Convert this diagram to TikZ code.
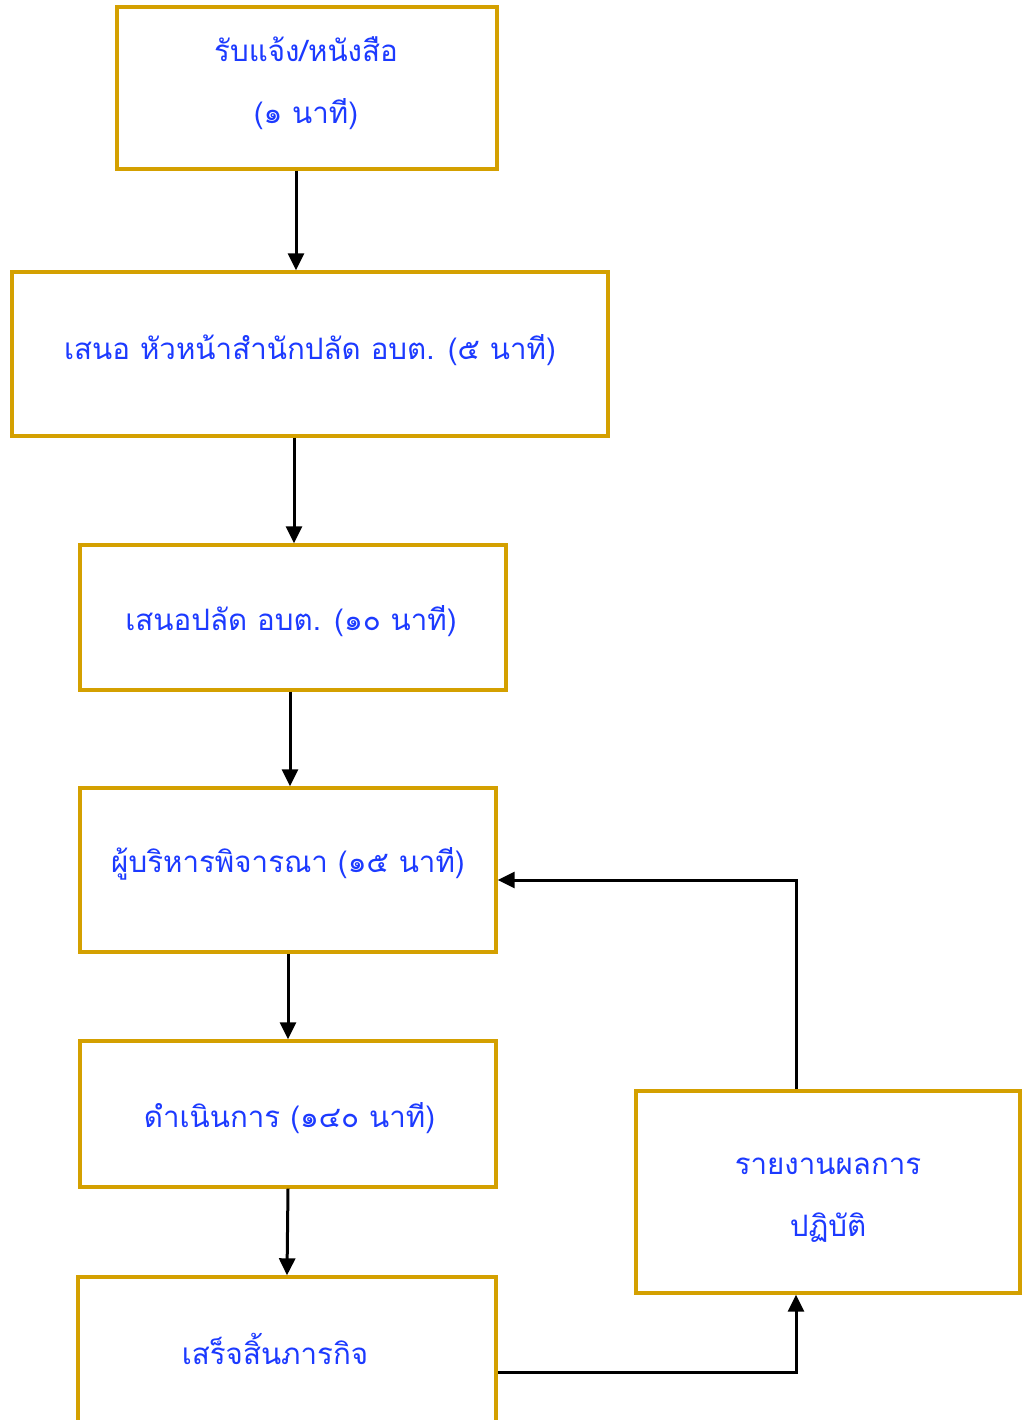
\documentclass[tikz,border=0pt]{standalone}
\usepackage{fontspec}
\newfontfamily\thaifont[Script=Thai]{Loma}
\usetikzlibrary{arrows.meta}
\definecolor{boxgold}{RGB}{212,160,0}
\definecolor{textblue}{RGB}{28,58,255}

\begin{document}
\begin{tikzpicture}[x=1pt,y=-1pt]
\tikzstyle{every node}+=[inner sep=0pt]
\tikzstyle{stepbox}=[draw=boxgold,line width=3.4pt,rectangle]
\tikzstyle{steptext}=[align=center,text=textblue,font=\thaifont\fontsize{29.5}{62}\selectfont]
\tikzstyle{link}=[black,line width=3pt,-{Triangle[length=17pt,width=16pt]}]
\fill [white] (0,0) rectangle (1029,1420);
\useasboundingbox (0,0) rectangle (1029,1420);
\node [stepbox,minimum width=380pt,minimum height=162pt] (recv) at (307,88) {};
\node [steptext] (recvtext) at (306,83) {รับแจ้ง/หนังสือ\\(๑ นาที)};
\node [stepbox,minimum width=596pt,minimum height=164pt] (head) at (310,354) {};
\node [steptext] (headtext) at (310,350) {เสนอ หัวหน้าสำนักปลัด อบต. (๕ นาที)};
\node [stepbox,minimum width=426pt,minimum height=145pt] (clerk) at (293,617.5) {};
\node [steptext] (clerktext) at (291,621) {เสนอปลัด อบต. (๑๐ นาที)};
\node [stepbox,minimum width=416pt,minimum height=164pt] (exec) at (288,870) {};
\node [steptext] (exectext) at (288,864) {ผู้บริหารพิจารณา (๑๕ นาที)};
\node [stepbox,minimum width=416pt,minimum height=146pt] (work) at (288,1114) {};
\node [steptext] (worktext) at (289.5,1118) {ดำเนินการ (๑๔๐ นาที)};
\node [stepbox,minimum width=418pt,minimum height=152pt] (done) at (287,1353) {};
\node [steptext] (donetext) at (275,1349) {เสร็จสิ้นภารกิจ};
\node [stepbox,minimum width=384pt,minimum height=202pt] (report) at (828,1192) {};
\node [steptext] (reporttext) at (828,1200) {รายงานผลการ\\ปฏิบัติ};
\draw [link] ([xshift=-11pt]recv.south) -- ([xshift=-11pt]recv.south |- head.north);
\draw [link] ([xshift=-16pt]head.south) -- ([xshift=-16pt]head.south |- clerk.north);
\draw [link] ([xshift=-3pt]clerk.south) -- ([xshift=-3pt]clerk.south |- exec.north);
\draw [link] (exec.south) -- (work.north);
\draw [link] (work.south) -- (done.north);
\draw [link] ([yshift=-19pt]done.east) -| ([xshift=-32pt]report.south);
\draw [link] ([xshift=-32pt]report.north) |- ([yshift=-10pt]exec.east);
\end{tikzpicture}
\end{document}
